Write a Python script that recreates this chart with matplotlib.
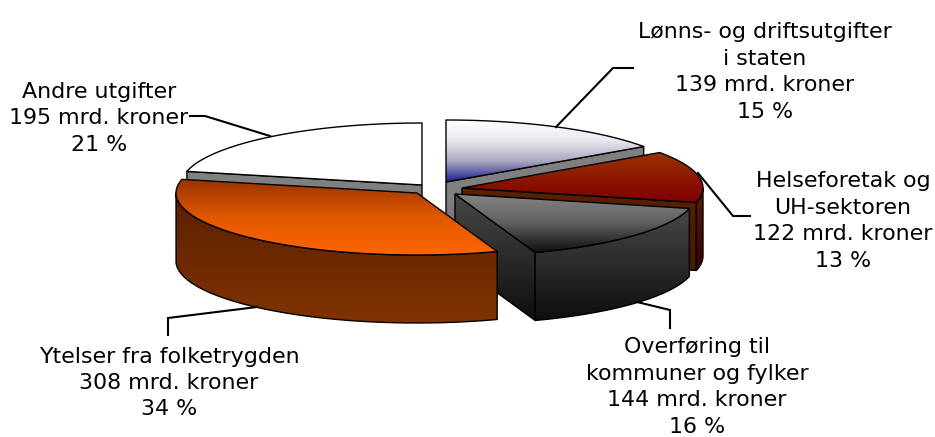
import matplotlib
matplotlib.use("Agg")
import matplotlib.pyplot as plt
import numpy as np
from matplotlib.colors import LinearSegmentedColormap
from matplotlib.patches import PathPatch
from matplotlib.path import Path

# data
navn = ["Lønns- og driftsutgifter\ni staten", "Helseforetak og\nUH-sektoren",
        "Overføring til\nkommuner og fylker", "Ytelser fra folketrygden", "Andre utgifter"]
verdier = [139, 122, 144, 308, 195]
prosent = [15, 13, 16, 34, 21]

# pie geometry, in pixels
cx, cy = 437, 189
a, b = 241, 62
dybde = 68
explode = [(9, -7), (25, -1), (18, 5), (-20, 4), (-15, -4)]

# gradient stops for each slice, top to bottom
topp = [["#ffffff", "#e8e8ee", "#a8a8c0", "#1c1c8c"], ["#993300", "#800000"],
        ["#858585", "#606060", "#101010"], ["#993300", "#e05800", "#ff6600"], ["#ffffff", "#ffffff"]]
side = [["#808080", "#808080", "#666680"], ["#5a2000", "#3a0000"],
        ["#484848", "#0e0e0e"], ["#5a2000", "#803300"], ["#808080", "#808080"]]
kant = [["#808080", "#808080", "#666680"], ["#5a2000", "#4a1800"],
        ["#484848", "#0e0e0e"], ["#5a2000", "#803300"], ["#808080", "#808080"]]

# draw order, back to front
rekkefolge = [4, 0, 1, 2, 3]

# label centres and leader lines
tekst_xy = [(765, 72), (843, 221), (697, 387), (169, 383), (99, 118.5)]
ledere = [[(556, 127), (613, 68), (633, 68)], [(698, 173), (733, 216), (750, 216)],
          [(637, 302), (670, 310), (670, 328)], [(257, 307), (168, 318), (168, 335)],
          [(270, 136), (205, 116), (190, 116)]]

fig = plt.figure(figsize=(9.35, 4.37), dpi=100)
ax = fig.add_axes([0, 0, 1, 1])
ax.set_axis_off()


def punkt(theta, x0, y0):
    t = np.radians(theta)
    return np.column_stack([x0 + a * np.sin(t), y0 - b * np.cos(t)])


def tegn(xy, farger, ec="black", lw=1.0):
    xy = np.vstack([xy, xy[:1]])
    path = Path(xy)
    x0, x1 = xy[:, 0].min(), xy[:, 0].max()
    y0, y1 = xy[:, 1].min(), xy[:, 1].max()
    cmap = LinearSegmentedColormap.from_list("g", farger)
    grad = np.linspace(0, 1, 256).reshape(-1, 1)
    im = ax.imshow(grad, cmap=cmap, extent=(x0, x1, y1, y0), aspect="auto", origin="upper", zorder=tegn.z)
    im.set_clip_path(PathPatch(path, transform=ax.transData))
    ax.add_patch(PathPatch(path, fc="none", ec=ec, lw=lw, zorder=tegn.z + 0.5, joinstyle="round"))
    tegn.z += 1


tegn.z = 1
grader = np.array(verdier) / sum(verdier) * 360
start = np.concatenate([[0], np.cumsum(grader)[:-1]])

for i in rekkefolge:
    t1, t2 = start[i], start[i] + grader[i]
    x0, y0 = cx + explode[i][0], cy + explode[i][1]
    apex = np.array([[x0, y0]])

    # cut faces that turn towards the viewer
    for t, synlig in [(t2, 0 < t2 < 180), (t1, 180 < t1 < 360)]:
        if synlig:
            p = punkt(np.array([t]), x0, y0)
            face = np.vstack([apex, p, p + [0, dybde], apex + [0, dybde]])
            tegn(face, kant[i])

    # outer wall, only the front half of the ellipse shows
    s1, s2 = max(t1, 90), min(t2, 270)
    if s1 < s2:
        bue = punkt(np.linspace(s1, s2, 80), x0, y0)
        vegg = np.vstack([bue, bue[::-1] + [0, dybde]])
        tegn(vegg, side[i])

    # top
    bue = punkt(np.linspace(t1, t2, 120), x0, y0)
    tegn(np.vstack([apex, bue]), topp[i])

for i in range(len(verdier)):
    xs, ys = zip(*ledere[i])
    ax.plot(xs, ys, color="black", lw=1.5, zorder=50, solid_joinstyle="miter")
    ax.text(tekst_xy[i][0], tekst_xy[i][1], f"{navn[i]}\n{verdier[i]} mrd. kroner\n{prosent[i]} %",
            ha="center", va="center", fontsize=15.9, linespacing=1.4, color="black",
            family=["DejaVu Sans"], zorder=60)

ax.set_xlim(0, 935)
ax.set_ylim(437, 0)
fig.savefig("out.png", dpi=100, facecolor="white")
